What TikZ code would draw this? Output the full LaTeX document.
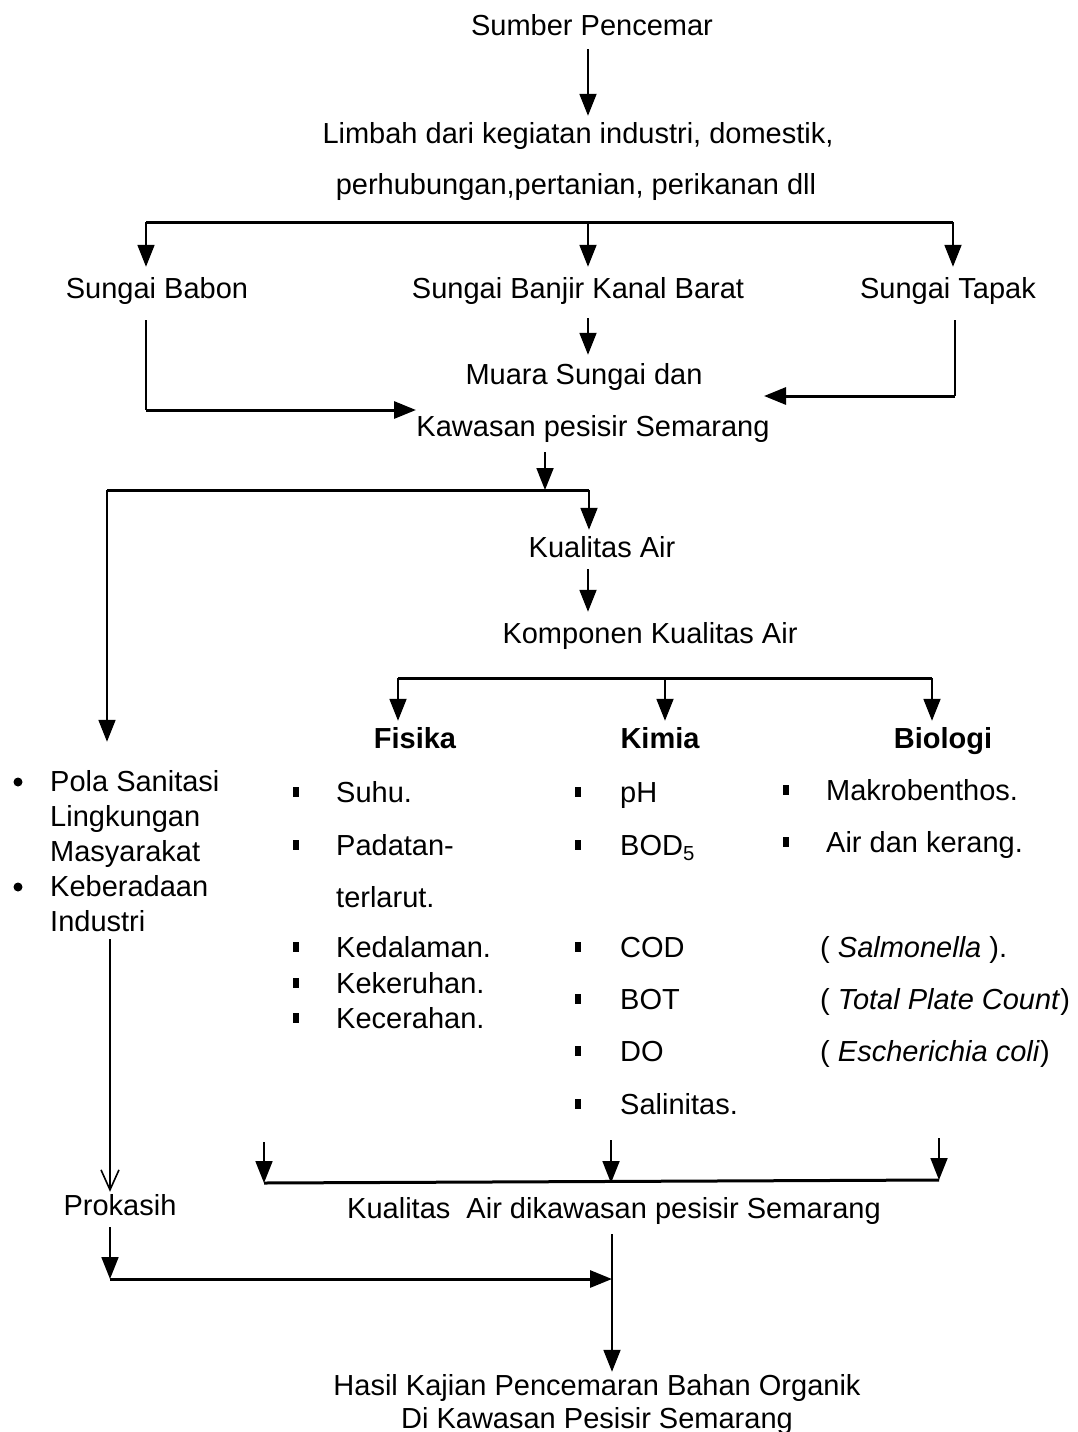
\documentclass[tikz,border=0pt]{standalone}
\usepackage{fontspec}
\setmainfont{Liberation Sans}
\usetikzlibrary{arrows.meta,calc}
\begin{document}
\begin{tikzpicture}[x=1pt,y=-1pt,
  every node/.style={font=\fontsize{29}{34}\selectfont, inner sep=0pt, anchor=base},
  txt/.style={anchor=base},
  ltxt/.style={anchor=base west},
  vline/.style={line width=1.8pt},
  hline/.style={line width=3pt},
  arr/.style={line width=1.8pt, -{Triangle[length=22pt,width=17pt]}},
  oarr/.style={line width=1.8pt, -{Straight Barb[length=20pt,width=18pt,line width=1.6pt]}},
  sqb/.style={rectangle, fill=black, minimum width=6.5pt, minimum height=9.5pt, inner sep=0pt, anchor=center},
  cb/.style={circle, fill=black, minimum size=9pt, inner sep=0pt, anchor=center}]
\useasboundingbox (0,0) rectangle (1078,1432);

% ---- texts ----
\node[txt] (sumber) at (592,35) {Sumber Pencemar};
\node[txt] (limbahA) at (578,143) {Limbah dari kegiatan industri, domestik,};
\node[txt] (limbahB) at (576,194) {perhubungan,pertanian, perikanan dll};
\node[txt] (babon) at (157,298) {Sungai Babon};
\node[txt] (bkb) at (578,298) {Sungai Banjir Kanal Barat};
\node[txt] (tapak) at (948,298) {Sungai Tapak};
\node[txt] (muara) at (584,384) {Muara Sungai dan};
\node[txt] (kawasan) at (593,436) {Kawasan pesisir Semarang};
\node[txt] (kualitas) at (602,557) {Kualitas Air};
\node[txt] (komponen) at (650,643) {Komponen Kualitas Air};
\node[txt,font=\fontsize{29}{34}\selectfont\bfseries] (fisika) at (415,748) {Fisika};
\node[txt,font=\fontsize{29}{34}\selectfont\bfseries] (kimia) at (660,748) {Kimia};
\node[txt,font=\fontsize{29}{34}\selectfont\bfseries] (biologi) at (943,748) {Biologi};

% left list
\node[cb] (b1) at (18,782) {};
\node[ltxt] (pola1) at (50,791) {Pola Sanitasi};
\node[ltxt] (pola2) at (50,826) {Lingkungan};
\node[ltxt] (pola3) at (50,861) {Masyarakat};
\node[cb] (b2) at (18,887) {};
\node[ltxt] (ind1) at (50,896) {Keberadaan};
\node[ltxt] (ind2) at (50,931) {Industri};

% fisika list
\node[sqb] (fq1) at (296,792) {};
\node[ltxt] (f1) at (336,802) {Suhu.};
\node[sqb] (fq2) at (296,845) {};
\node[ltxt] (f2) at (336,855) {Padatan-};
\node[ltxt] (f2b) at (336,907) {terlarut.};
\node[sqb] (fq3) at (296,947) {};
\node[ltxt] (f3) at (336,957) {Kedalaman.};
\node[sqb] (fq4) at (296,983) {};
\node[ltxt] (f4) at (336,993) {Kekeruhan.};
\node[sqb] (fq5) at (296,1018) {};
\node[ltxt] (f5) at (336,1028) {Kecerahan.};

% kimia list
\node[sqb] (kq1) at (578,792) {};
\node[ltxt] (k1) at (620,802) {pH};
\node[sqb] (kq2) at (578,845) {};
\node[ltxt] (k2) at (620,855) {BOD\textsubscript{5}};
\node[sqb] (kq3) at (578,947) {};
\node[ltxt] (k3) at (620,957) {COD};
\node[sqb] (kq4) at (578,999) {};
\node[ltxt] (k4) at (620,1009) {BOT};
\node[sqb] (kq5) at (578,1051) {};
\node[ltxt] (k5) at (620,1061) {DO};
\node[sqb] (kq6) at (578,1104) {};
\node[ltxt] (k6) at (620,1114) {Salinitas.};

% biologi list
\node[sqb] (bq1) at (786,790) {};
\node[ltxt] (bi1) at (826,800) {Makrobenthos.};
\node[sqb] (bq2) at (786,842) {};
\node[ltxt] (bi2) at (826,852) {Air dan kerang.};
\node[ltxt] (bi3) at (820,957) {( \textit{Salmonella} ).};
\node[ltxt] (bi4) at (820,1009) {( \textit{Total Plate Count})};
\node[ltxt] (bi5) at (820,1061) {( \textit{Escherichia coli})};

\node[txt] (prokasih) at (120,1215) {Prokasih};
\node[txt] (kualitas2) at (614,1218) {Kualitas\ \ Air dikawasan pesisir Semarang};
\node[txt] (hasilA) at (597,1395) {Hasil Kajian Pencemaran Bahan Organik};
\node[txt] (hasilB) at (597,1428) {Di Kawasan Pesisir Semarang};

% ---- coordinates ----
\coordinate (cM) at (588,0);
\coordinate (hL) at (146,222);
\coordinate (hM) at (588,222);
\coordinate (hR) at (953,222);
\coordinate (babC) at (146,410);
\coordinate (babE) at (416,410);
\coordinate (tapC) at (955,396);
\coordinate (tapE) at (764,396);
\coordinate (kwS) at (545,452);
\coordinate (kwL) at (107,490);
\coordinate (kwJ) at (545,490);
\coordinate (kwR) at (589,490);
\coordinate (kpL) at (398,678);
\coordinate (kpM) at (665,678);
\coordinate (kpR) at (932,678);
\coordinate (t1) at (264,1142);
\coordinate (t2) at (611,1140);
\coordinate (t3) at (939,1138);
\coordinate (bl1) at (264,1183);
\coordinate (bl3) at (939,1180);
\coordinate (pkV) at (110,0);
\coordinate (pkC) at (110,1279);
\coordinate (pkE) at (612,1279);

% ---- connectors ----
\draw[arr] ($(sumber.south -| cM)+(0,14)$) -- ($(limbahA.north -| cM)+(0,-6)$);
\draw[hline] (hL) -- (hR);
\draw[arr] (hL) -- ($(hL |- babon.north)+(0,-10)$);
\draw[arr] (hM) -- ($(hM |- bkb.north)+(0,-10)$);
\draw[arr] (hR) -- ($(hR |- tapak.north)+(0,-10)$);
\draw[arr] ($(bkb.south -| cM)+(0,14)$) -- ($(muara.north -| cM)+(0,-8)$);
\draw[vline] ($(babon.south -| babC)+(0,16)$) -- (babC);
\draw[hline,-{Triangle[length=22pt,width=17pt]}] (babC) -- (babE);
\draw[vline] ($(tapak.south -| tapC)+(0,16)$) -- (tapC);
\draw[hline,-{Triangle[length=22pt,width=17pt]}] (tapC) -- (tapE);
\draw[arr] (kwS) -- (kwJ);
\draw[hline] (kwL) -- (kwR);
\draw[arr] (kwR) -- ($(kualitas.north -| kwR)+(0,-6)$);
\draw[arr] (kwL) -- ($(kwL |- pola1.north)+(0,-28)$);
\draw[arr] ($(kualitas.south -| cM)+(0,12)$) -- ($(komponen.north -| cM)+(0,-10)$);
\draw[hline] (kpL) -- (kpR);
\draw[arr] (kpL) -- ($(kpL |- fisika.north)+(0,-6)$);
\draw[arr] (kpM) -- ($(kpM |- kimia.north)+(0,-6)$);
\draw[arr] (kpR) -- ($(kpR |- biologi.north)+(0,-6)$);
\draw[oarr] ($(ind2.south -| pkV)+(0,8)$) -- ($(prokasih.north -| pkV)+(0,-2)$);
\draw[arr] (t1) -- (bl1);
\draw[arr] (t2) -- (t2 |- bl1);
\draw[arr] (t3) -- (bl3);
\draw[hline] (bl1) -- (bl3);
\draw[arr] ($(prokasih.south -| pkC)+(0,12)$) -- (pkC);
\draw[hline,-{Triangle[length=22pt,width=17pt]}] (pkC) -- (pkE);
\draw[arr] ($(kualitas2.south -| pkE)+(0,10)$) -- ($(hasilA.north -| pkE)+(0,-2)$);
\end{tikzpicture}
\end{document}
